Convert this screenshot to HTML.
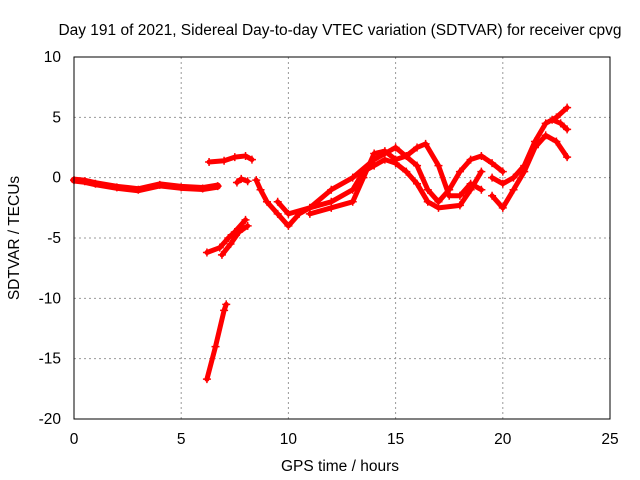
<!DOCTYPE html>
<html><head><meta charset="utf-8"><style>
body{margin:0;background:#fff}
svg{display:block;font-family:"Liberation Sans",sans-serif;font-size:15.5px}
</style></head><body>
<svg id="chart" width="640" height="480">
<text x="340" y="35" text-anchor="middle">Day 191 of 2021, Sidereal Day-to-day VTEC variation (SDTVAR) for receiver cpvg</text>
<text x="340" y="471" text-anchor="middle">GPS time / hours</text>
<text transform="translate(19,238) rotate(-90)" text-anchor="middle">SDTVAR / TECUs</text>
<g id="grid"></g><g id="ticks"></g><g id="series"></g>
<rect x="74" y="57" width="536" height="362" fill="none" stroke="#000" stroke-width="1"/>
</svg>
<script>
const xTicks=[0,5,10,15,20,25];
const yTicks=[10,5,0,-5,-10,-15,-20];
const track1=[[0,-0.2],[0.5,-0.3],[1,-0.5],[2,-0.8],[3,-1],[4,-0.6],[5,-0.8],[6,-0.9],[6.7,-0.7]];
const track2=[[6.3,1.3],[7,1.4],[7.5,1.7],[8,1.8],[8.3,1.5]];
const track3=[[6.2,-6.2],[6.8,-5.8],[7.2,-5],[7.5,-4.5],[8,-3.5]];
const track4=[[6.9,-6.4],[7.3,-5.5],[7.7,-4.5],[8.1,-4]];
const track5=[[6.2,-16.7],[6.6,-14],[7.0,-11],[7.1,-10.5]];
const track6=[[7.6,-0.4],[7.8,-0.1],[8.1,-0.3]];
const track7=[[8.5,-0.2],[8.7,-1],[9,-2],[9.5,-3],[10,-4],[10.5,-3],[11,-2.5],[12,-2],[13,-1],[13.5,0.5],[14,1],[14.5,1.5],[15,1.2],[15.5,0.5],[16,-0.5],[16.5,-2],[17,-2.5],[18,-2.3],[18.5,-1],[19,0.5]];
const track8=[[9.5,-2],[10,-3],[11,-2.5],[12,-1],[13,0],[14,1.5],[15,2.5],[16,1],[16.5,-1],[17,-2],[17.5,-1],[18,0.5],[18.5,1.5],[19,1.8],[19.5,1.2],[20,0.5]];
const track9=[[11,-3],[12,-2.5],[13,-2],[13.5,0],[14,2],[14.5,2.2],[15,1.5],[15.5,1.8],[16,2.5],[16.4,2.8],[17,1],[17.5,-1.5],[18,-1.5],[18.5,-0.5],[19,-1]];
const track10=[[19.5,-1.5],[20,-2.5],[20.5,-1],[21,0.5],[21.5,2.5],[22,3.5],[22.5,3],[23,1.7]];
const track11=[[19.5,0],[20,-0.5],[20.5,0],[21,1],[21.5,3],[22,4.5],[22.5,5],[23,5.8]];
const track12=[[22.3,4.8],[22.7,4.5],[23,4]];
const tracks=[track1,track2,track3,track4,track5,track6,track7,track8,track9,track10,track11,track12];
const X0=74,X1=610,Y0=419,Y1=57;
const xs=v=>X0+(v-0)/(25-0)*(X1-X0);
const ys=v=>Y0-(v+20)/(30)*(Y0-Y1);
const NS="http://www.w3.org/2000/svg";
const grid=document.getElementById('grid'),ticks=document.getElementById('ticks'),ser=document.getElementById('series');
function mk(tag,attrs,parent){const e=document.createElementNS(NS,tag);for(const k in attrs)e.setAttribute(k,attrs[k]);parent.appendChild(e);return e;}
xTicks.forEach(t=>{const x=xs(t);
 if(t>0&&t<25){const g=mk('line',{x1:x,x2:x,y1:Y1,y2:Y0,stroke:'#999','stroke-dasharray':'2,3'},grid);
 
 }
 const tx=mk('text',{x:x,y:Y0+25,'text-anchor':'middle'},ticks);tx.textContent=t;
 
 
});
yTicks.forEach(t=>{const y=ys(t);
 if(t>-20&&t<10){const g=mk('line',{x1:X0,x2:X1,y1:y,y2:y,stroke:'#999','stroke-dasharray':'2,3'},grid);
 
 }
 const tx=mk('text',{x:X0-13,y:y+5,'text-anchor':'end'},ticks);tx.textContent=t;
 
 
});
tracks.forEach((tr,i)=>{
 const p=mk('polyline',{points:tr.map(d=>xs(d[0])+','+ys(d[1])).join(' '),fill:'none',stroke:'#f00','stroke-width':i===0?7:5,'stroke-linejoin':'round','stroke-linecap':'round'},ser);
 
 
 tr.forEach(d=>{const x=xs(d[0]),y=ys(d[1]);
  const m=mk('path',{d:`M${x-4},${y}H${x+4}M${x},${y-4}V${y+4}`,stroke:'#f00','stroke-width':1.5},ser);
  
  
 });
});
</script>
</body></html>
